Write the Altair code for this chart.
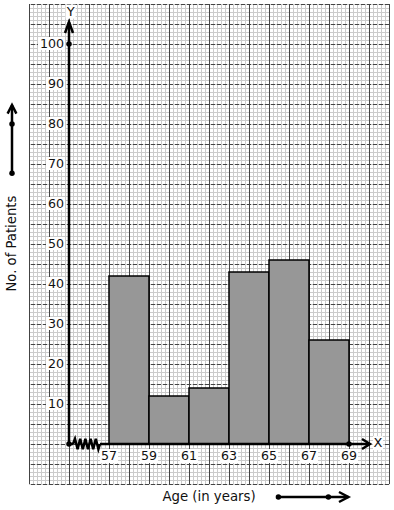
import altair as alt
import pandas as pd
import numpy as np

# ---- data ----
age_start = [57, 59, 61, 63, 65, 67]
age_end = [59, 61, 63, 65, 67, 69]
patients = [42, 12, 14, 43, 46, 26]
x_tick_labels = [57, 59, 61, 63, 65, 67, 69]
y_tick_labels = [10, 20, 30, 40, 50, 60, 70, 80, 90, 100]

XS = alt.Scale(domain=[53, 71], nice=False, zero=False)
YS = alt.Scale(domain=[-10, 110], nice=False, zero=False)
FONT = "DejaVu Sans"


def X(f="x"):
    return alt.X(f"{f}:Q", scale=XS, axis=None)


def Y(f="y"):
    return alt.Y(f"{f}:Q", scale=YS, axis=None)


# ---- graph paper ----
minor_v = pd.DataFrame({"x": np.round(np.arange(53, 71.001, 0.2), 3)})
minor_h = pd.DataFrame({"y": np.arange(-10, 111, 1)})
major_v = pd.DataFrame({"x": np.arange(53, 72, 1)})
major_h = pd.DataFrame({"y": np.arange(-10, 111, 5)})

g1 = alt.Chart(minor_v).mark_rule(color="#cbcbcb", strokeWidth=1, xOffset=0.5).encode(x=X())
g2 = alt.Chart(minor_h).mark_rule(color="#cbcbcb", strokeWidth=1, yOffset=0.5).encode(y=Y())
g3 = alt.Chart(major_v).mark_rule(color="#444444", strokeWidth=1, xOffset=0.5).encode(x=X())
g4 = alt.Chart(major_h).mark_rule(color="#444444", strokeWidth=1, yOffset=0.5,
                                  strokeDash=[4, 2]).encode(y=Y())

# ---- histogram bars ----
bars_df = pd.DataFrame({"a": age_start, "b": age_end, "n": patients})
bars = alt.Chart(bars_df).mark_rect(fill="#979797", stroke="black", strokeWidth=1.5).encode(
    x=X("a"), x2="b:Q", y=alt.Y("zero:Q", scale=YS, axis=None), y2="n:Q"
).transform_calculate(zero="0")

# ---- axes, arrows, zigzag break ----
polylines = {
    "yaxis": [(55, 0), (55, 105.5)],
    "ychev": [(54.8, 102.75), (55, 105.5), (55.2, 102.75)],
    "xaxis1": [(55, 0), (55.2, 0)],
    "zig": [(55.2, 0), (55.3, 1.3), (55.43, -1.3), (55.56, 1.3), (55.69, -1.3),
            (55.82, 1.3), (55.95, -1.3), (56.08, 1.3), (56.21, -1.3), (56.34, 1.3),
            (56.47, -1.3), (56.55, 0)],
    "xaxis2": [(56.55, 0), (70.05, 0)],
    "xchev": [(69.65, 1.25), (70.05, 0), (69.65, -1.25)],
    "larrow": [(52.15, 67.7), (52.15, 84.75)],
    "lchev": [(51.93, 82.6), (52.15, 84.75), (52.37, 82.6)],
    "barrow": [(65.47, -13.25), (68.97, -13.25)],
    "bchev": [(68.5, -12.0), (68.97, -13.25), (68.5, -14.5)],
}
rows = []
for k, pts in polylines.items():
    for i, (px, py) in enumerate(pts):
        rows.append({"g": k, "o": i, "x": px, "y": py})
lines_df = pd.DataFrame(rows)
lines = alt.Chart(lines_df).mark_line(color="black", strokeWidth=2.5, strokeCap="butt",
                                      strokeJoin="miter", clip=False).encode(
    x=X(), y=Y(), detail="g:N", order="o:Q"
)

dots_df = pd.DataFrame({"x": [55, 55, 69, 52.15, 52.15, 65.47, 67.97],
                        "y": [0, 100, 0, 67.7, 80, -13.25, -13.25]})
dots = alt.Chart(dots_df).mark_circle(color="black", size=30, opacity=1, clip=False).encode(
    x=X(), y=Y()
)

# ---- tick labels with white boxes ----
ylab = pd.DataFrame({"y": y_tick_labels, "x": 54.75,
                     "t": [str(v) for v in y_tick_labels]})
ybox2 = alt.Chart(ylab[ylab["y"] < 100]).mark_point(
    shape="M-18,-7H1V6H-18Z", size=4, filled=True, color="white", opacity=1
).encode(x=X(), y=Y())
ybox3 = alt.Chart(ylab[ylab["y"] >= 100]).mark_point(
    shape="M-26,-7H1V6H-26Z", size=4, filled=True, color="white", opacity=1
).encode(x=X(), y=Y())
ytext = alt.Chart(ylab).mark_text(align="right", baseline="middle", font=FONT,
                                  fontSize=12.6, color="#111").encode(x=X(), y=Y(), text="t:N")

xlab = pd.DataFrame({"x": x_tick_labels, "y": -3.0,
                     "t": [str(v) for v in x_tick_labels]})
xbox = alt.Chart(xlab).mark_point(
    shape="M-9,-7H9V7H-9Z", size=4, filled=True, color="white", opacity=1
).encode(x=X(), y=Y())
xtext = alt.Chart(xlab).mark_text(align="center", baseline="middle", font=FONT,
                                  fontSize=12.6, color="#111").encode(x=X(), y=Y(), text="t:N")

# ---- axis letters and titles ----
letters = pd.DataFrame({"x": [55.08, 70.45], "y": [108.1, 0.2], "t": ["Y", "X"]})
letters_box = alt.Chart(letters).mark_point(
    shape="M-5,-7H5V7H-5Z", size=4, filled=True, color="white", opacity=1
).encode(x=X(), y=Y())
letters_t = alt.Chart(letters).mark_text(align="center", baseline="middle", font=FONT,
                                         fontSize=13, color="#111").encode(x=X(), y=Y(), text="t:N")

xtitle = alt.Chart(pd.DataFrame({"x": [62.0], "y": [-13.25], "t": ["Age (in years)"]})).mark_text(
    align="center", baseline="middle", font=FONT, fontSize=13.3, color="#111", clip=False
).encode(x=X(), y=Y(), text="t:N")
ytitle = alt.Chart(pd.DataFrame({"x": [52.15], "y": [50.1], "t": ["No. of Patients"]})).mark_text(
    align="center", baseline="middle", font=FONT, fontSize=13.2, angle=270, color="#111", clip=False
).encode(x=X(), y=Y(), text="t:N")

chart = alt.layer(
    g1, g2, g3, g4, bars, lines, ybox2, ybox3, ytext, xbox, xtext,
    dots, letters_box, letters_t, xtitle, ytitle
).properties(
    width=360, height=480,
    autosize=alt.AutoSizeParams(type="none"),
    padding={"left": 29, "top": 4, "right": 5, "bottom": 26},
).configure_view(stroke=None).configure(background="white")

chart.save("out.html", embed_options={"renderer": "svg", "actions": False})
